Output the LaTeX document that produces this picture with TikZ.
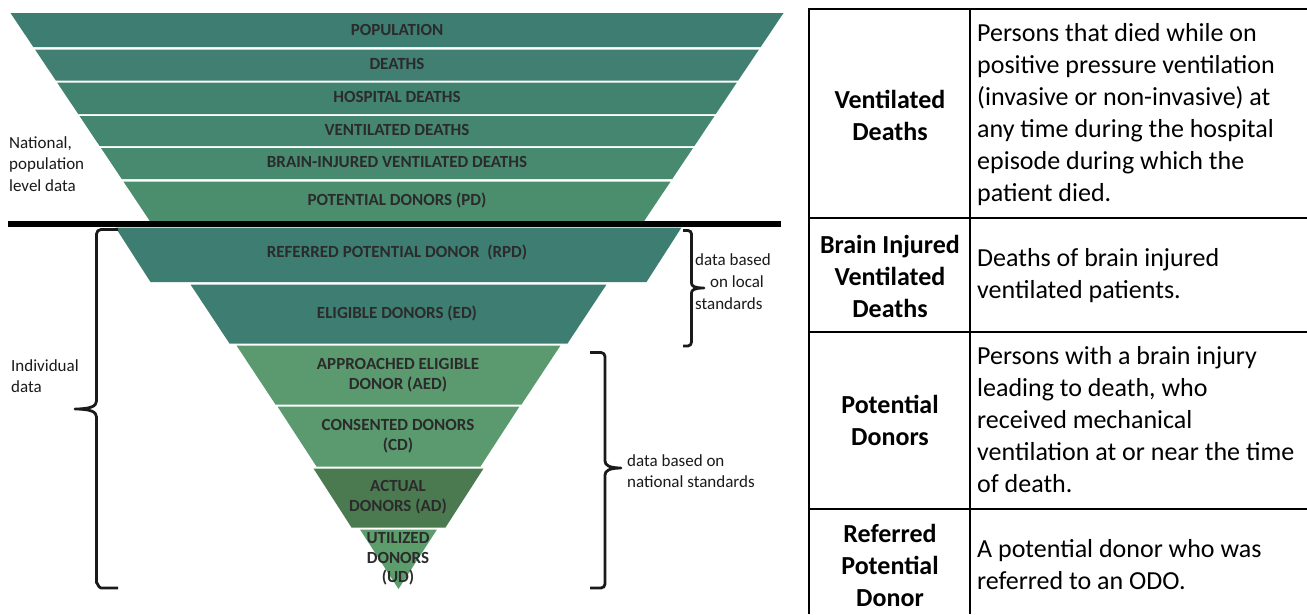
\documentclass[tikz,border=0pt]{standalone}
\usepackage{fontspec}
\setmainfont{Carlito}
\definecolor{b1}{HTML}{3E7D71}
\definecolor{b2}{HTML}{407F71}
\definecolor{b3}{HTML}{428370}
\definecolor{b4}{HTML}{448670}
\definecolor{b5}{HTML}{478A6F}
\definecolor{b6}{HTML}{4A8E6E}
\definecolor{teal}{HTML}{3E7E72}
\definecolor{lgreen}{HTML}{5A9A6E}
\definecolor{dgreen}{HTML}{4B7A51}
\definecolor{ugreen}{HTML}{5D9D6C}
\definecolor{txtgray}{HTML}{2B2B2B}
\definecolor{txtblack}{HTML}{1A1A1A}
\newcommand\fband[6]{\fill[#6] ({#1-#4},#2) -- ({#1+#4},#2) -- ({#1+#5},#3) -- ({#1-#5},#3) -- cycle;}
\begin{document}
\begin{tikzpicture}[x=1pt,y=-1pt,
  ftxt/.style={font=\fontsize{17}{19.5}\selectfont\bfseries, text=txtgray, align=center, inner sep=0},
  stxt/.style={font=\fontsize{17}{21.5}\selectfont, text=txtblack, align=left, inner sep=0},
  thead/.style={font=\fontsize{26}{32}\selectfont\bfseries, align=center, inner sep=0},
  tdesc/.style={font=\fontsize{26}{32}\selectfont, align=left, inner sep=0, anchor=west},
  bracestyle/.style={line width=2.8pt, draw=txtblack, line join=round},
  rule/.style={line width=2pt, draw=black}]
\useasboundingbox (0,0) rectangle (1307,614);
\fill[white] (0,0) rectangle (1307,614);
% upper funnel
\fband{397}{13}{47}{386.5}{363.7}{b1}
\fband{397}{49.5}{80.5}{362}{341.2}{b2}
\fband{397}{82.5}{114}{339.9}{318.8}{b3}
\fband{397}{116}{146}{317.5}{297.4}{b4}
\fband{397}{148}{179}{296}{275.3}{b5}
\fband{397}{181.5}{222}{273.6}{246.5}{b6}
% lower funnel
\fband{398.5}{227.5}{282}{283}{248}{teal}
\fband{398.5}{284.5}{343.5}{208}{169}{teal}
\fband{398.5}{345.5}{404.5}{162}{123}{lgreen}
\fband{398.5}{406.5}{466.5}{121}{82}{lgreen}
\fband{398.5}{468.5}{527.5}{85}{47}{dgreen}
\fband{398.5}{529.5}{589}{38.5}{0}{ugreen}
% separator
\draw[line width=5.5pt, black] (8,224) -- (781,224);
% funnel labels
\node[ftxt] (pop) at (397,30) {POPULATION};
\node[ftxt] (dea) at (397,64) {DEATHS};
\node[ftxt] (hos) at (397,97) {HOSPITAL DEATHS};
\node[ftxt] (ven) at (397,130) {VENTILATED DEATHS};
\node[ftxt] (bra) at (397,162) {BRAIN-INJURED VENTILATED DEATHS};
\node[ftxt] (pd) at (397,200) {POTENTIAL DONORS (PD)};
\node[ftxt] (rpd) at (397,252) {REFERRED POTENTIAL DONOR\ \ (RPD)};
\node[ftxt] (ed) at (397,313) {ELIGIBLE DONORS (ED)};
\node[ftxt] (aed) at (398,375) {APPROACHED ELIGIBLE\\DONOR (AED)};
\node[ftxt] (cd) at (398,436) {CONSENTED DONORS\\(CD)};
\node[ftxt] (ad) at (398,497) {ACTUAL\\DONORS (AD)};
\node[ftxt] (ud) at (398,559) {UTILIZED\\DONORS\\(UD)};
% side labels
\node[stxt, anchor=west] (nat) at (9,164) {National,\\population\\level data};
\node[stxt, anchor=west] (ind) at (11,376) {Individual\\data};
\node[stxt, anchor=west] (loc1) at (695,260) {data based};
\node[stxt, anchor=west] (loc2) at (710,282) {on local};
\node[stxt, anchor=west] (loc3) at (695,304) {standards};
\node[stxt, anchor=west] (nats) at (627,471) {data based on\\national standards};
% braces
\draw[bracestyle] (118,229.5) -- (101,229.5) to[out=180,in=90] (96.5,234) -- (96.5,401)
  .. controls (96.5,406) and (91,409) .. (75,409)
  .. controls (91,409) and (96.5,412) .. (96.5,417) -- (96.5,583) to[out=90,in=180] (101,588) -- (118,588);
\draw[bracestyle] (683,230.5) -- (688,230.5) to[out=0,in=90] (691.5,234) -- (691.5,283)
  .. controls (691.5,286) and (694,288) .. (704,288)
  .. controls (694,288) and (691.5,290) .. (691.5,293) -- (691.5,342) to[out=-90,in=0] (688,346) -- (683,346);
\draw[bracestyle] (590,352.5) -- (601,352.5) to[out=0,in=90] (605,356.5) -- (605,461)
  .. controls (605,465) and (609,468) .. (621,468)
  .. controls (609,468) and (605,471) .. (605,475) -- (605,584) to[out=-90,in=0] (601,588) -- (590,588);
% table
\draw[rule] (809,9) -- (1307,9);
\draw[rule] (809,218) -- (1307,218);
\draw[rule] (809,332) -- (1307,332);
\draw[rule] (809,509) -- (1307,509);
\draw[rule] (809,8) -- (809,614);
\draw[rule] (970,8) -- (970,614);
\node[thead] (h1) at (890,115) {Ventilated\\Deaths};
\node[tdesc] (d1) at (977,115) {Persons that died while on\\positive pressure ventilation\\(invasive or non-invasive) at\\any time during the hospital\\episode during which the\\patient died.};
\node[thead] (h2) at (890,276) {Brain Injured\\Ventilated\\Deaths};
\node[tdesc] (d2) at (977,276) {Deaths of brain injured\\ventilated patients.};
\node[thead] (h3) at (890,420) {Potential\\Donors};
\node[tdesc] (d3) at (977,420) {Persons with a brain injury\\leading to death, who\\received mechanical\\ventilation at or near the time\\of death.};
\node[thead] (h4) at (890,565) {Referred\\Potential\\Donor};
\node[tdesc] (d4) at (977,565) {A potential donor who was\\referred to an ODO.};
\end{tikzpicture}
\end{document}
